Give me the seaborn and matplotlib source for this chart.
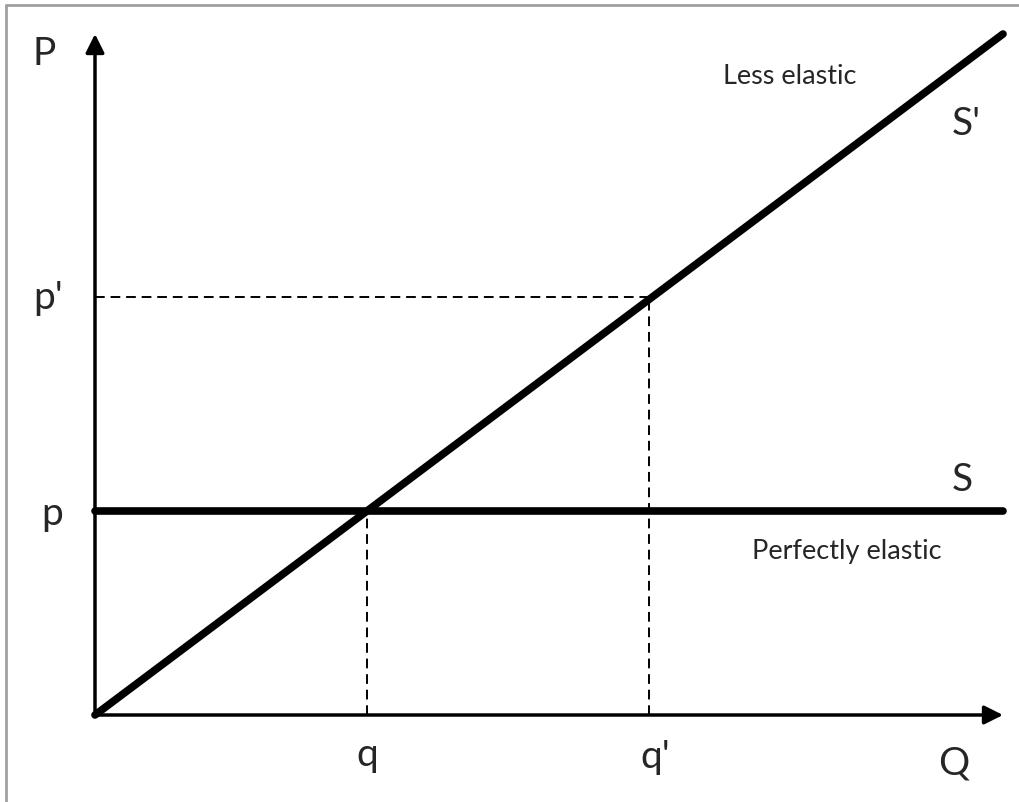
import pandas as pd
import seaborn as sns
import matplotlib.pyplot as plt
from matplotlib.lines import Line2D

# Curve data (diagram units: origin at 0, quantity to the right, price up)
supply_less_q = [0.0, 10.0]
supply_less_p = [0.0, 7.5]
supply_perf_q = [0.0, 10.0]
supply_perf_p = [2.25, 2.25]

q0, p0 = 3.0, 2.25
q1, p1 = 6.1, 4.6
x_max, y_max = 10.0, 7.5

sns.set_theme(style="white")
plt.rcParams['font.family'] = ['Lato', 'DejaVu Sans']

fig = plt.figure(figsize=(10.2, 8.03), dpi=100)
ax = fig.add_axes([0, 0, 1, 1])

px = 90.8
ax.set_xlim(-95 / px, (1020 - 95) / px)
ax.set_ylim((716 - 803) / px, 716 / px)
ax.axis('off')

# frame: only left and top edges are visible in the picture
fx, fy = 6.5 / 1020, 1 - 5.5 / 803
fig.add_artist(Line2D([fx, fx], [-0.01, fy], transform=fig.transFigure, color='#a0a0a0', lw=2))
fig.add_artist(Line2D([fx, 1.01], [fy, fy], transform=fig.transFigure, color='#a0a0a0', lw=2))

# axes with arrow heads
arrow = dict(arrowstyle='-|>', lw=2.5, color='black', mutation_scale=28, shrinkA=0, shrinkB=0)
ax.annotate('', xy=(0, y_max), xytext=(0, 0), arrowprops=arrow)
ax.annotate('', xy=(x_max, 0), xytext=(0, 0), arrowprops=arrow)

# supply curves
df_less = pd.DataFrame({'Q': supply_less_q, 'P': supply_less_p})
df_perf = pd.DataFrame({'Q': supply_perf_q, 'P': supply_perf_p})
sns.lineplot(data=df_less, x='Q', y='P', ax=ax, color='black', lw=5.5, estimator=None, sort=False)
sns.lineplot(data=df_perf, x='Q', y='P', ax=ax, color='black', lw=5.5, estimator=None, sort=False)

# dashed guide lines
dash = dict(color='black', lw=1.4, ls=(0, (5, 3)))
ax.plot([q0, q0], [0, p0], **dash)
ax.plot([q1, q1], [0, p1], **dash)
ax.plot([0, q1], [p1, p1], **dash)

def lab(x, y, s, size=28):
    ax.text((x - 95) / px, (716 - y) / px, s, fontsize=size, ha='center', va='center')

lab(44, 54, 'P')
lab(48, 298, "p'")
lab(52, 514, 'p')
lab(367, 755, 'q')
lab(655, 757, "q'")
lab(954, 764, 'Q')
lab(966, 124, "S'")
lab(962, 480, 'S')
lab(790, 77, 'Less elastic', size=19.5)
lab(847, 552, 'Perfectly elastic', size=19.5)

plt.savefig('out.png', dpi=100)
plt.close()
